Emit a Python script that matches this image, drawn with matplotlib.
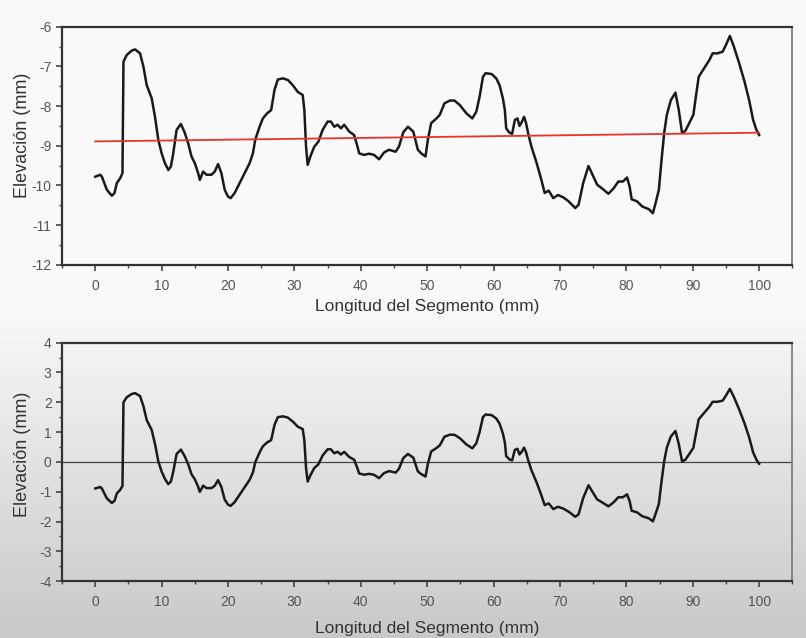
import numpy as np
import matplotlib
matplotlib.use("Agg")
import matplotlib.pyplot as plt
from matplotlib.ticker import MultipleLocator

plt.rcParams['font.family'] = ['Liberation Sans', 'DejaVu Sans']
plt.rcParams['axes.unicode_minus'] = False

# ____________________________________ DATA ____________________________________ #
# profile of the segment, longitude (mm) vs raw elevation (mm)
long_mm = [0, 0.75, 1, 1.75, 2.5, 2.9, 3.25, 3.75, 4.1, 4.25, 4.75, 5.5, 6, 6.75, 7.25, 7.75, 8.5, 9,
           9.5, 10, 10.5, 11, 11.4, 11.75, 12.25, 12.9, 13.5, 14, 14.5, 15, 15.5, 15.75, 16.25, 16.75,
           17.5, 18, 18.5, 19, 19.5, 20, 20.4, 21, 21.75, 22.5, 23.25, 23.75, 24.1, 24.75, 25.25, 25.9,
           26.5, 27, 27.5, 28.25, 29, 29.75, 30.5, 31.25, 31.5, 31.75, 32, 32.4, 33, 33.6, 34.25, 35,
           35.5, 36, 36.5, 37, 37.5, 38.25, 39, 39.5, 39.75, 40.5, 41.25, 42, 42.75, 43.5, 44.25, 45.25,
           45.75, 46.4, 47.1, 47.9, 48.6, 49.1, 49.75, 50.1, 50.6, 51.4, 51.9, 52.6, 53.4, 54.1, 54.9,
           55.9, 56.8, 57.4, 57.9, 58.4, 58.8, 59.7, 60.4, 60.9, 61.4, 61.7, 61.9, 62.4, 62.8, 63.2,
           63.6, 63.9, 64.2, 64.6, 64.9, 65.2, 65.7, 66.5, 67.2, 67.7, 68.3, 69.0, 69.7, 70.5, 71.3,
           72.3, 72.8, 73.5, 74.3, 74.8, 75.6, 76.3, 77.3, 78.1, 78.8, 79.5, 80.1, 80.5, 80.8, 81.6,
           82.4, 83.4, 84.0, 84.4, 84.9, 85.3, 85.7, 86.1, 86.7, 87.4, 87.9, 88.4, 88.9, 89.6, 90.1,
           90.4, 90.9, 91.7, 92.5, 93.0, 93.7, 94.5, 95.0, 95.6, 96.2, 97.0, 97.8, 98.5, 99.1, 99.6, 100]
elev_mm = [-9.78, -9.73, -9.78, -10.11, -10.26, -10.19, -9.94, -9.82, -9.69, -6.88, -6.71, -6.6, -6.57,
           -6.67, -7.0, -7.47, -7.8, -8.27, -8.85, -9.19, -9.44, -9.61, -9.52, -9.19, -8.6, -8.45,
           -8.68, -8.94, -9.27, -9.44, -9.69, -9.86, -9.65, -9.73, -9.73, -9.65, -9.46, -9.69, -10.11,
           -10.28, -10.32, -10.19, -9.94, -9.69, -9.44, -9.19, -8.85, -8.52, -8.31, -8.18, -8.1, -7.59,
           -7.33, -7.3, -7.34, -7.47, -7.64, -7.72, -8.1, -9.02, -9.48, -9.27, -9.02, -8.9, -8.6,
           -8.39, -8.39, -8.52, -8.47, -8.56, -8.47, -8.64, -8.73, -9.02, -9.19, -9.23, -9.2, -9.23,
           -9.34, -9.17, -9.1, -9.15, -9.02, -8.66, -8.52, -8.64, -9.1, -9.19, -9.27, -8.85, -8.43,
           -8.31, -8.22, -7.93, -7.86, -7.86, -7.97, -8.18, -8.31, -8.14, -7.76, -7.26, -7.17, -7.19,
           -7.3, -7.47, -7.8, -8.1, -8.56, -8.67, -8.7, -8.35, -8.31, -8.5, -8.42, -8.27, -8.43,
           -8.68, -9.02, -9.44, -9.86, -10.19, -10.13, -10.32, -10.24, -10.3, -10.4, -10.57, -10.49,
           -9.94, -9.51, -9.69, -9.98, -10.07, -10.21, -10.07, -9.9, -9.9, -9.8, -10.03, -10.35,
           -10.4, -10.53, -10.6, -10.7, -10.45, -10.11, -9.36, -8.68, -8.22, -7.85, -7.66, -8.1,
           -8.68, -8.62, -8.39, -8.22, -7.85, -7.26, -7.05, -6.84, -6.67, -6.67, -6.63, -6.46, -6.23,
           -6.5, -6.92, -7.38, -7.85, -8.35, -8.6, -8.73]

# linear trend (red line) end points
trend_x = [0, 100]
trend_y = [-8.89, -8.67]

xticks = [0, 10, 20, 30, 40, 50, 60, 70, 80, 90, 100]
top_yticks = [-12, -11, -10, -9, -8, -7, -6]
bot_yticks = [-4, -3, -2, -1, 0, 1, 2, 3, 4]

# detrended profile = raw elevation minus the linear trend
x = np.array(long_mm)
resid = np.array(elev_mm) - np.interp(x, trend_x, trend_y)

# ____________________________________ FIGURE ____________________________________ #
fig = plt.figure(figsize=(8.06, 6.38), dpi=100)

# grey screenshot-like background gradient (white at top, grey at bottom)
bg = fig.add_axes([0, 0, 1, 1], zorder=-10)
rows = np.linspace(0, 1, 200)
shade = np.where(rows < 0.48, 0.975, 0.975 - (rows - 0.48) / 0.52 * 0.19)
bg.imshow(np.tile(shade[:, None], (1, 10)), cmap='gray', vmin=0, vmax=1, aspect='auto',
          extent=[0, 1, 0, 1], origin='upper')
bg.set_axis_off()

tick_col = '#555555'
lab_col = '#333333'


def style_axes(ax, yticks, xlab_y, ylab_y):
    ax.set_facecolor('none')
    ax.set_xlim(-5, 105)
    ax.set_xticks(xticks)
    ax.set_yticks(yticks)
    ax.set_ylim(yticks[0], yticks[-1])
    ax.xaxis.set_minor_locator(MultipleLocator(5))
    ax.yaxis.set_minor_locator(MultipleLocator(0.5))
    ax.tick_params(which='major', direction='out', length=4, width=1.2, colors='#444444',
                   labelcolor=tick_col, labelsize=10)
    ax.tick_params(axis='x', which='major', pad=6)
    ax.tick_params(which='minor', direction='out', length=2.5, width=1.0, colors='#444444')
    for side in ['left', 'bottom', 'top']:
        ax.spines[side].set_linewidth(1.6)
        ax.spines[side].set_color('#333333')
    ax.spines['right'].set_linewidth(1.2)
    ax.spines['right'].set_color('#777777')
    ax.set_xlabel('Longitud del Segmento (mm)', fontsize=12.5, color=lab_col)
    ax.set_ylabel('Elevación (mm)', fontsize=13, color=lab_col)
    ax.xaxis.set_label_coords(0.5, xlab_y)
    ax.yaxis.set_label_coords(-0.042, ylab_y)


# top: raw profile with its trend
ax1 = fig.add_axes([0.077, 0.585, 0.906, 0.373])
ax1.plot(x, elev_mm, color='#1a1a1a', lw=1.8)
ax1.plot(trend_x, trend_y, color='#e8342c', lw=1.3)
style_axes(ax1, top_yticks, -0.142, 0.545)

# bottom: detrended profile
ax2 = fig.add_axes([0.077, 0.089, 0.906, 0.374])
ax2.axhline(0, color='#444444', lw=0.9)
ax2.plot(x, resid, color='#1a1a1a', lw=1.8)
style_axes(ax2, bot_yticks, -0.168, 0.53)

fig.savefig('out.png', dpi=100)
